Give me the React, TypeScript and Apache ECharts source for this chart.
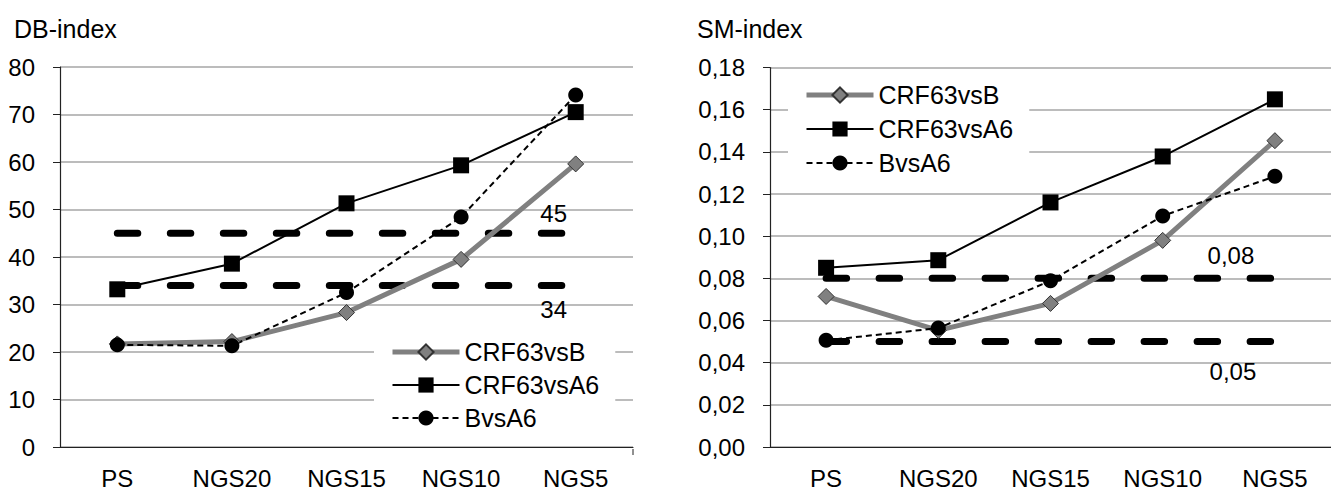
import React, { useEffect, useRef } from "react";
import * as echarts from "echarts";

const categories = ["PS", "NGS20", "NGS15", "NGS10", "NGS5"];
const seriesNames = ["CRF63vsB", "CRF63vsA6", "BvsA6"];

const dbCRF63vsB = [21.7, 22.2, 28.3, 39.5, 59.6];
const dbCRF63vsA6 = [33.2, 38.6, 51.3, 59.3, 70.5];
const dbBvsA6 = [21.5, 21.3, 32.5, 48.4, 74.1];
const dbThresholds = [45, 34];
const dbAxis = { min: 0, max: 80, interval: 10 };

const smCRF63vsB = [0.0714, 0.0553, 0.0681, 0.098, 0.1453];
const smCRF63vsA6 = [0.085, 0.0886, 0.116, 0.1378, 0.1649];
const smBvsA6 = [0.0506, 0.0564, 0.0788, 0.1096, 0.1284];
const smThresholds = [0.08, 0.05];
const smAxis = { min: 0, max: 0.18, interval: 0.02 };

const FONT = "'Liberation Sans', Arial, sans-serif";
const FS = 24;
const FS_LEG = 25;

const GL = { left: 60, top: 67, width: 573, height: 382 };
const GR = { left: 770, top: 67.5, width: 572, height: 383.5 };

function comma(v: number, d: number) {
  return v.toFixed(d).replace(".", ",");
}

export default function App() {
  const ref = useRef<HTMLDivElement>(null);
  useEffect(() => {
    if (!ref.current) return;
    const chart = echarts.init(ref.current, null, { renderer: "svg" });

    const xAxisBase = (gridIndex: number) => ({
      type: "category",
      gridIndex,
      data: categories,
      boundaryGap: true,
      axisLine: { lineStyle: { color: "#222", width: 1.2 } },
      axisTick: { alignWithLabel: true, length: 6, lineStyle: { color: "#222" } },
      axisLabel: { color: "#000", fontSize: FS, fontFamily: FONT, margin: 19 },
      splitLine: { show: false },
    });
    const yAxisBase = (gridIndex: number, ax: any, fmt: (v: number) => string) => ({
      type: "value",
      gridIndex,
      min: ax.min,
      max: ax.max,
      interval: ax.interval,
      axisLine: { show: true, lineStyle: { color: "#222", width: 1.2 } },
      axisTick: { show: true, length: 7, lineStyle: { color: "#222" } },
      axisLabel: { color: "#000", fontSize: FS, fontFamily: FONT, margin: 25, formatter: fmt },
      splitLine: { show: true, lineStyle: { color: "#a6a6a6", width: 1.5 } },
    });

    const dataSeries = (idx: number, a: number[], b: number[], c: number[]) => [
      {
        name: seriesNames[0],
        type: "line",
        xAxisIndex: idx,
        yAxisIndex: idx,
        data: a,
        symbol: "diamond",
        symbolSize: 16,
        lineStyle: { color: "#808080", width: 5 },
        itemStyle: { color: "#808080", borderColor: "#333", borderWidth: 1 },
        z: 3,
      },
      {
        name: seriesNames[1],
        type: "line",
        xAxisIndex: idx,
        yAxisIndex: idx,
        data: b,
        symbol: "rect",
        symbolSize: 16,
        lineStyle: { color: "#000", width: 2 },
        itemStyle: { color: "#000" },
        z: 3,
      },
      {
        name: seriesNames[2],
        type: "line",
        xAxisIndex: idx,
        yAxisIndex: idx,
        data: c,
        symbol: "circle",
        symbolSize: 15,
        lineStyle: { color: "#000", width: 2, type: [6, 4] },
        itemStyle: { color: "#000" },
        z: 3,
      },
    ];

    const thresholdSeries = (
      idx: number,
      t: number,
      txt: string,
      pos: string,
      dist: number,
      offX: number
    ) => ({
      name: "thr" + idx + "_" + t,
      type: "line",
      xAxisIndex: idx,
      yAxisIndex: idx,
      symbol: "circle",
      symbolSize: 1,
      showAllSymbol: true,
      silent: true,
      itemStyle: { color: "rgba(0,0,0,0)" },
      lineStyle: { color: "#000", width: 7, type: [20.5, 32.5], cap: "round" },
      label: { show: false },
      data: categories.map((_, i) =>
        i === categories.length - 1
          ? {
              value: t,
              label: {
                show: true,
                position: pos,
                distance: dist,
                offset: [offX, 0],
                formatter: () => txt,
                color: "#000",
                fontSize: FS,
                fontFamily: FONT,
              },
            }
          : t
      ),
      z: 2,
    });

    const legendBase = (left: number, top: number, gap: number) => ({
      data: [
        { name: seriesNames[0], lineStyle: { width: 5 } },
        { name: seriesNames[1], lineStyle: { width: 2 } },
        { name: seriesNames[2], lineStyle: { width: 2 } },
      ],
      orient: "vertical",
      left,
      top,
      itemWidth: 67,
      itemHeight: 19,
      itemGap: gap,
      padding: [12, 16, 12, 16],
      backgroundColor: "#fff",
      textStyle: { color: "#000", fontSize: FS_LEG, fontFamily: FONT, lineHeight: 26 },
      selectedMode: false,
    });

    const titleStyle = { color: "#000", fontSize: 25, fontWeight: "normal", fontFamily: FONT };

    const option: any = {
      animation: false,
      backgroundColor: "#fff",
      title: [
        { text: "DB-index", left: 9, top: 11, textStyle: titleStyle },
        { text: "SM-index", left: 692, top: 11, textStyle: titleStyle },
      ],
      grid: [
        { left: GL.left, top: GL.top, width: GL.width, height: GL.height },
        { left: GR.left, top: GR.top, width: GR.width, height: GR.height },
      ],
      xAxis: [xAxisBase(0), xAxisBase(1)],
      yAxis: [
        yAxisBase(0, dbAxis, (v: number) => String(v)),
        yAxisBase(1, smAxis, (v: number) => comma(v, 2)),
      ],
      legend: [legendBase(374, 327, 7), legendBase(788, 70, 8)],
      series: [
        thresholdSeries(0, dbThresholds[0], String(dbThresholds[0]), "top", 7, -22),
        thresholdSeries(0, dbThresholds[1], String(dbThresholds[1]), "bottom", 11, -22),
        ...dataSeries(0, dbCRF63vsB, dbCRF63vsA6, dbBvsA6),
        thresholdSeries(1, smThresholds[0], comma(smThresholds[0], 2), "top", 10, -44),
        thresholdSeries(1, smThresholds[1], comma(smThresholds[1], 2), "bottom", 17, -42),
        ...dataSeries(1, smCRF63vsB, smCRF63vsA6, smBvsA6),
      ],
      graphic: [
        {
          type: "line",
          shape: {
            x1: GL.left + GL.width,
            y1: GL.top + GL.height,
            x2: GL.left + GL.width,
            y2: GL.top + GL.height + 6,
          },
          style: { stroke: "#222", lineWidth: 1 },
        },
      ],
    };
    chart.setOption(option);
    return () => chart.dispose();
  }, []);
  return (
    <div
      ref={ref}
      style={{ position: "absolute", left: 0, top: 0, width: 1331, height: 490, background: "#fff" }}
    />
  );
}
